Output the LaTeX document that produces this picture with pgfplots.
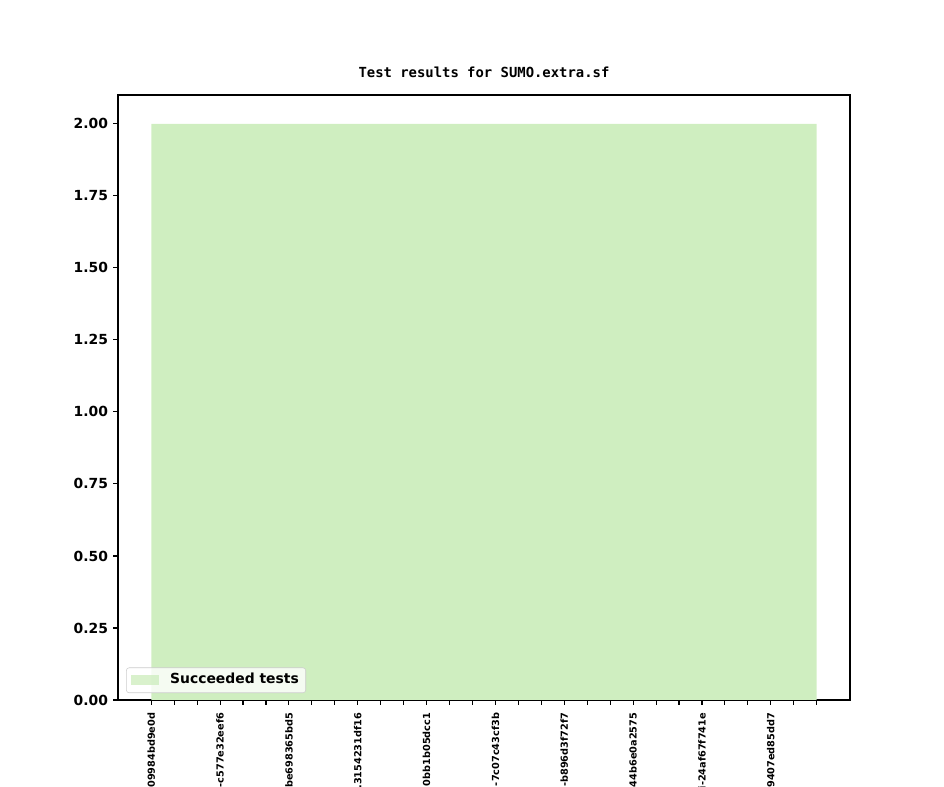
\documentclass[border=0pt]{standalone}
\usepackage{pgfplots}
\pgfplotsset{compat=1.18}
\usepackage{fontspec}
\setmainfont{DejaVu Sans}
\newfontfamily\mono{DejaVu Sans Mono}

\definecolor{okgreen}{RGB}{207,238,192}

\begin{document}
\begin{tikzpicture}
\begin{axis}[
    scale only axis,
    width=527pt,
    height=435.6pt,
    at={(0,0)}, anchor=south west,
    xmin=-1.45, xmax=30.45,
    ymin=0, ymax=2.1,
    axis line style={line width=0.8pt},
    tick style={line width=0.8pt, black},
    tick align=outside,
    xtick pos=bottom, ytick pos=left,
    major tick length=3.5pt,
    xtick={0,...,29},
    xticklabels={09984bd9e0d,,,-c577e32eef6,,,be698365bd5,,,.3154231df16,,,0bb1b05dcc1,,,-7c07c43cf3b,,,-b896d3f72f7,,,44b6e0a2575,,,i-24af67f741e,,,9407ed85dd7,,},
    xticklabel style={yshift=-5.6pt, rotate=90, anchor=east, font=\bfseries\fontsize{7}{8}\selectfont, inner sep=0pt},
    ytick={0,0.25,...,2.0},
    yticklabel style={font=\bfseries\fontsize{10}{12}\selectfont, inner sep=0pt, xshift=-3.5pt},
    /pgf/number format/assume math mode=true,
    /pgf/number format/.cd, fixed, fixed zerofill, precision=2, /pgfplots/.cd,
    title={\mono\bfseries Test results for SUMO.extra.sf},
    title style={at={(0.5,1)}, anchor=south, inner sep=0pt, yshift=6pt, font=\fontsize{10}{12}\selectfont},
    legend style={at={(0,0)}, anchor=south west, xshift=5.8pt, yshift=5pt,
        fill=white, fill opacity=0.8, text opacity=1, draw=black!20, rounded corners=2pt,
        font=\bfseries\fontsize{10}{12}\selectfont,
        inner xsep=3.6pt, inner ysep=2pt, column sep=6.6pt,
        nodes={inner xsep=1.4pt, inner ysep=2pt, text height=7.5pt, text depth=2.5pt}},
    legend cell align=left,
    legend image code/.code={\fill[okgreen, sharp corners] (0pt,-3.5pt) rectangle (20pt,3.5pt);},
]
\addplot[fill=okgreen, draw=none] coordinates {
    (0,2) (1,2) (2,2) (3,2) (4,2) (5,2) (6,2) (7,2) (8,2) (9,2)
    (10,2) (11,2) (12,2) (13,2) (14,2) (15,2) (16,2) (17,2) (18,2) (19,2)
    (20,2) (21,2) (22,2) (23,2) (24,2) (25,2) (26,2) (27,2) (28,2) (29,2)
    (29,0) (0,0)} \closedcycle;
\addlegendentry{Succeeded tests}
\end{axis}
\pgfresetboundingbox
\path (-84.96pt,-62.64pt) rectangle (594.72pt,504pt);
\end{tikzpicture}
\end{document}
